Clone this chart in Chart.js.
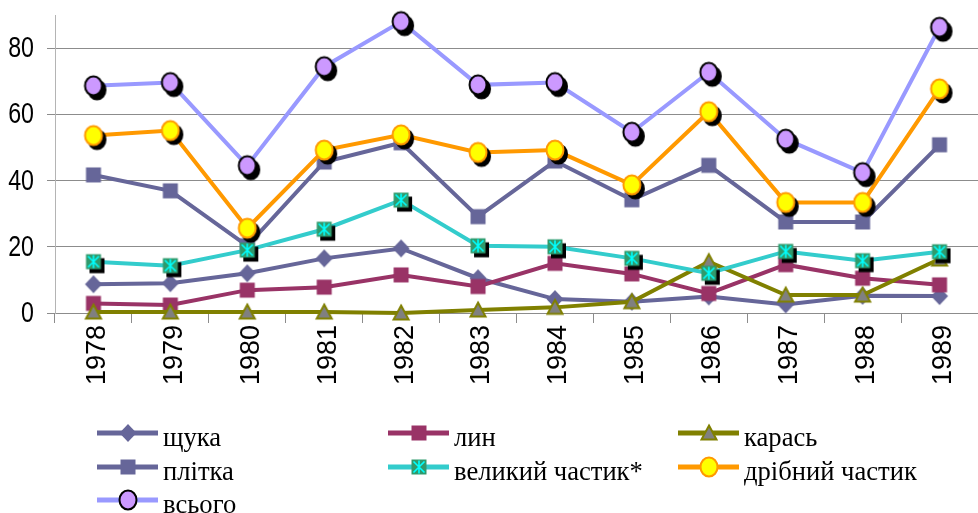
<!DOCTYPE html>
<html>
<head>
<meta charset="utf-8">
<script src="https://cdn.jsdelivr.net/npm/chart.js@4.4.1/dist/chart.umd.min.js"></script>
<style>
    html, body { margin: 0; padding: 0; background: #fff; }
    #wrap { width: 978px; height: 513px; }
</style>
</head>
<body>
<div id="wrap"><canvas id="catchChart" width="978" height="513"></canvas></div>
<script>
// Catch by species, 1978-1989
const years = ['1978', '1979', '1980', '1981', '1982', '1983', '1984', '1985', '1986', '1987', '1988', '1989'];
const yTicks = [0, 20, 40, 60, 80];

const pike = [8.7, 9.0, 12.0, 16.5, 19.5, 10.5, 4.2, 3.4, 5.0, 2.6, 5.2, 5.1];          // щука
const tench = [2.9, 2.4, 6.9, 7.8, 11.5, 8.0, 15.0, 11.8, 5.9, 14.6, 10.5, 8.5];        // лин
const crucian = [0.3, 0.3, 0.3, 0.3, 0, 0.9, 1.7, 3.4, 15.5, 5.4, 5.4, 16.3];           // карась
const roach = [41.7, 36.9, 20.3, 45.6, 51.4, 29.1, 45.9, 34.2, 44.6, 27.5, 27.5, 50.8]; // плітка
const largeFish = [15.5, 14.3, 19.0, 25.3, 34.1, 20.3, 20.0, 16.5, 12.0, 18.6, 15.8, 18.5]; // великий частик*
const smallFish = [53.6, 55.1, 25.6, 49.2, 53.8, 48.5, 49.2, 38.7, 60.8, 33.4, 33.4, 67.7]; // дрібний частик
const total = [68.6, 69.6, 44.5, 74.4, 88.0, 68.9, 69.6, 54.6, 72.7, 52.5, 42.4, 86.3];     // всього

/**
 * Marker shapes, drawn once into small canvases and used as pointStyle
 */
function drawShape(g, kind, x, y) {
    g.beginPath();
    if (kind === 'diamond') {
        g.moveTo(x, y - 9); g.lineTo(x + 8.5, y); g.lineTo(x, y + 9); g.lineTo(x - 8.5, y);
        g.closePath();
    } else if (kind === 'square' || kind === 'star') {
        g.rect(x - 7.5, y - 7.5, 15, 15);
    } else if (kind === 'triangle') {
        g.moveTo(x, y - 7.5); g.lineTo(x + 7.5, y + 6.5); g.lineTo(x - 7.5, y + 6.5);
        g.closePath();
    } else if (kind === 'circle') {
        g.ellipse(x, y, 8.5, 9.5, 0, 0, Math.PI * 2);
    }
}

function makeMarker(kind, fill, stroke, shadow) {
    const c = document.createElement('canvas');
    c.width = 32;
    c.height = 32;
    const g = c.getContext('2d');
    if (shadow) {
        drawShape(g, kind, 19.5, 20);
        g.fillStyle = '#000';
        g.fill();
        if (stroke) { g.lineWidth = 2; g.strokeStyle = '#000'; g.stroke(); }
    }
    drawShape(g, kind, 16, 16);
    g.fillStyle = fill;
    g.fill();
    if (stroke) {
        g.lineWidth = 2;
        g.strokeStyle = stroke;
        g.stroke();
    }
    if (kind === 'star') {
        // cyan asterisk on the teal square
        g.strokeStyle = '#00ffff';
        g.lineWidth = 1.6;
        g.beginPath();
        g.moveTo(16, 9.5); g.lineTo(16, 22.5);
        g.moveTo(10.5, 10.5); g.lineTo(21.5, 21.5);
        g.moveTo(21.5, 10.5); g.lineTo(10.5, 21.5);
        g.stroke();
    }
    return c;
}

const markerDefs = [
    ['diamond', '#666699', null, false],
    ['square', '#993366', null, false],
    ['triangle', '#808080', '#808000', false],
    ['square', '#666699', null, false],
    ['star', '#2f9a6c', null, true],
    ['circle', '#ffff00', '#ff9900', true],
    ['circle', '#cc99ff', '#000000', true]
];
const chartMarkers = markerDefs.map(d => makeMarker(d[0], d[1], d[2], d[3]));
const legendMarkers = markerDefs.map(d => makeMarker(d[0], d[1], d[2], false));

const seriesNames = ['щука', 'лин', 'карась', 'плітка', 'великий частик*', 'дрібний частик', 'всього'];
const seriesData = [pike, tench, crucian, roach, largeFish, smallFish, total];
const lineColors = ['#666699', '#993366', '#808000', '#666699', '#33cccc', '#ff9900', '#9999ff'];

// Y labels in a narrow face: squeeze them horizontally
const narrowYLabels = {
    id: 'narrowYLabels',
    afterDraw(chart) {
        const ctx = chart.ctx;
        const yScale = chart.scales.y;
        ctx.save();
        ctx.font = '29px "Liberation Sans", Arial, sans-serif';
        ctx.fillStyle = '#000';
        ctx.textAlign = 'right';
        ctx.textBaseline = 'middle';
        yTicks.forEach(v => {
            const y = yScale.getPixelForValue(v);
            ctx.save();
            ctx.translate(34, y + 1);
            ctx.scale(0.8, 1);
            ctx.fillText(String(v), 0, 0);
            ctx.restore();
        });
        ctx.restore();
    }
};

// Legend in three fixed columns, below the year labels
const gridLegend = {
    id: 'gridLegend',
    afterDraw(chart) {
        const ctx = chart.ctx;
        const colX = [97, 388, 678];
        const rowY = [433, 467, 500];
        ctx.save();
        ctx.font = '28px "Liberation Serif", "Times New Roman", serif';
        ctx.textBaseline = 'alphabetic';
        chart.data.datasets.forEach((ds, i) => {
            const x = colX[i % 3];
            const y = rowY[Math.floor(i / 3)];
            ctx.strokeStyle = ds.borderColor;
            ctx.lineWidth = 5;
            ctx.beginPath();
            ctx.moveTo(x, y);
            ctx.lineTo(x + 61, y);
            ctx.stroke();
            const m = legendMarkers[i];
            ctx.drawImage(m, Math.round(x + 30.5 - m.width / 2), Math.round(y - m.height / 2));
            ctx.fillStyle = '#000';
            ctx.save();
            ctx.translate(x + 66, y + 13);
            ctx.scale(0.95, 1);
            ctx.fillText(ds.label, 0, 0);
            ctx.restore();
        });
        ctx.restore();
    }
};

const ctx = document.getElementById('catchChart').getContext('2d');
new Chart(ctx, {
    type: 'line',
    data: {
        labels: years,
        datasets: seriesNames.map((name, i) => ({
            label: name,
            data: seriesData[i],
            borderColor: lineColors[i],
            backgroundColor: lineColors[i],
            borderWidth: 4,
            tension: 0,
            pointStyle: chartMarkers[i],
            pointRadius: 8,
            pointHoverRadius: 8,
            order: 10 - i,
            clip: false
        }))
    },
    options: {
        responsive: false,
        animation: false,
        layout: {
            autoPadding: false,
            // plot runs slightly past the right edge, as in the original
            padding: { top: 15, right: -4, bottom: 0, left: 0 }
        },
        plugins: {
            legend: { display: false },
            tooltip: { enabled: false }
        },
        scales: {
            x: {
                offset: true,
                grid: {
                    offset: true,
                    drawOnChartArea: false,
                    drawTicks: true,
                    tickLength: 10,
                    color: '#8c8c8c'
                },
                border: { color: '#8c8c8c' },
                ticks: {
                    minRotation: 90,
                    maxRotation: 90,
                    padding: 2,
                    labelOffset: 4,
                    color: '#000',
                    font: { family: '"Liberation Sans", Arial, sans-serif', size: 27 }
                },
                afterFit(scale) {
                    scale.height = 200;
                    scale.paddingLeft = 0;
                    scale.paddingRight = 0;
                }
            },
            y: {
                min: 0,
                max: 90,
                afterBuildTicks(scale) {
                    scale.ticks = yTicks.map(v => ({ value: v }));
                },
                grid: {
                    color: '#8c8c8c',
                    tickLength: 8
                },
                border: { color: '#b4b4b4' },
                ticks: { display: false },
                afterFit(scale) {
                    scale.width = 55;
                    scale.paddingTop = 0;
                    scale.paddingBottom = 0;
                }
            }
        }
    },
    plugins: [narrowYLabels, gridLegend]
});
</script>
</body>
</html>
